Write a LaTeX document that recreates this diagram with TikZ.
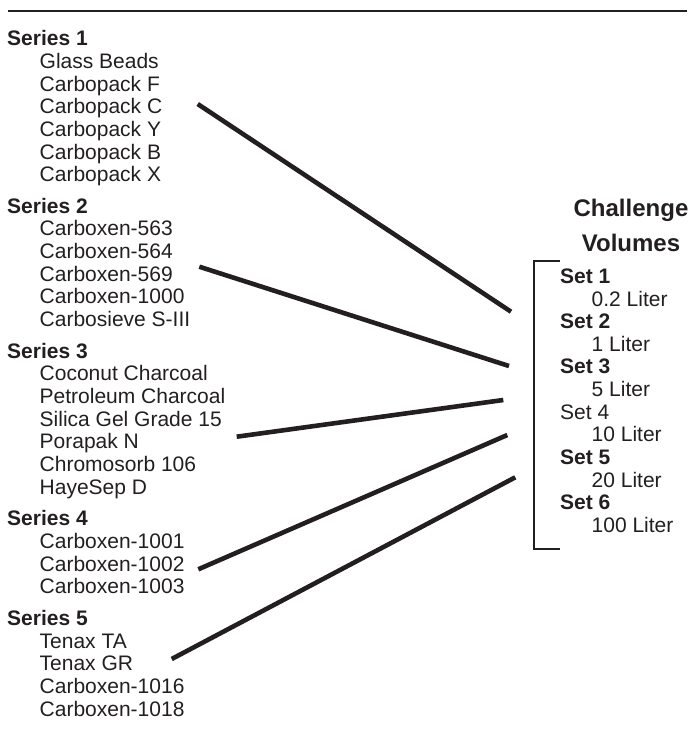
\documentclass[tikz,border=0pt]{standalone}
\usepackage{fontspec}
\setmainfont{Liberation Sans}
\usepackage{xcolor}
\usepackage{tikz}
\usetikzlibrary{positioning}
\definecolor{inkcolor}{RGB}{35, 31, 32}

\begin{document}
\begin{tikzpicture}[x=1pt, y=-1pt, inkcolor,
    txt/.style={inner sep=0pt, anchor=base west, text=inkcolor,
      font=\fontsize{21}{22.67}\selectfont},
    head/.style={txt, font=\fontsize{21}{22.67}\selectfont\bfseries},
    link/.style={line width=4.6pt, draw=inkcolor}]
    % Frame
    \useasboundingbox (0,0) rectangle (692,742);
    \draw[line width=2.8pt] (8,11) -- (687,11);

    % Series of sorbents
    \node[head] (ser1) at (7,45.7) {Series 1};
    \foreach \name [count=\i] in {Glass Beads, Carbopack F, Carbopack C,
        Carbopack Y, Carbopack B, Carbopack X}
      \node[txt] (ser1-\i) at (39.5,45.7+22.67*\i) {\name};

    \node[head] (ser2) at (7,213.3) {Series 2};
    \foreach \name [count=\i] in {Carboxen-563, Carboxen-564, Carboxen-569,
        Carboxen-1000, Carbosieve S-III}
      \node[txt] (ser2-\i) at (39.5,213.3+22.67*\i) {\name};

    \node[head] (ser3) at (7,358.3) {Series 3};
    \foreach \name [count=\i] in {Coconut Charcoal, Petroleum Charcoal,
        Silica Gel Grade 15, Porapak N, Chromosorb 106, HayeSep D}
      \node[txt] (ser3-\i) at (39.5,358.3+22.67*\i) {\name};

    \node[head] (ser4) at (7,525.9) {Series 4};
    \foreach \name [count=\i] in {Carboxen-1001, Carboxen-1002, Carboxen-1003}
      \node[txt] (ser4-\i) at (39.5,525.9+22.67*\i) {\name};

    \node[head] (ser5) at (7,625.5) {Series 5};
    \foreach \name [count=\i] in {Tenax TA, Tenax GR, Carboxen-1016,
        Carboxen-1018}
      \node[txt] (ser5-\i) at (39.5,625.5+22.67*\i) {\name};

    % Challenge volumes
    \node[txt, anchor=base, font=\fontsize{24}{35}\selectfont\bfseries]
      (title1) at (631,216) {Challenge};
    \node[txt, anchor=base, font=\fontsize{24}{35}\selectfont\bfseries]
      (title2) at (631,251) {Volumes};
    \foreach \lab/\vol [count=\i] in {\textbf{Set 1}/0.2 Liter,
        \textbf{Set 2}/1 Liter, \textbf{Set 3}/5 Liter, Set 4/10 Liter,
        \textbf{Set 5}/20 Liter, \textbf{Set 6}/100 Liter} {
      \node[txt] (set\i) at (560,238+45.33*\i) {\lab};
      \node[txt] (vol\i) at (591.5,260.67+45.33*\i) {\vol};
    }
    \draw[line width=1.8pt] (560,261) -- (534,261) -- (534,549) -- (560,549);

    % Connecting lines
    \foreach \xa/\ya/\xb/\yb [count=\i] in {197.7/104/511/311.7,
        199.3/266.7/509/366, 236.7/436.7/503.3/400,
        198.3/569.3/507.3/435, 171.7/659/515.3/477.3} {
      \coordinate (from\i) at (\xa,\ya);
      \coordinate (to\i) at (\xb,\yb);
      \draw[link] (from\i) -- (to\i);
    }
  \end{tikzpicture}
\end{document}
